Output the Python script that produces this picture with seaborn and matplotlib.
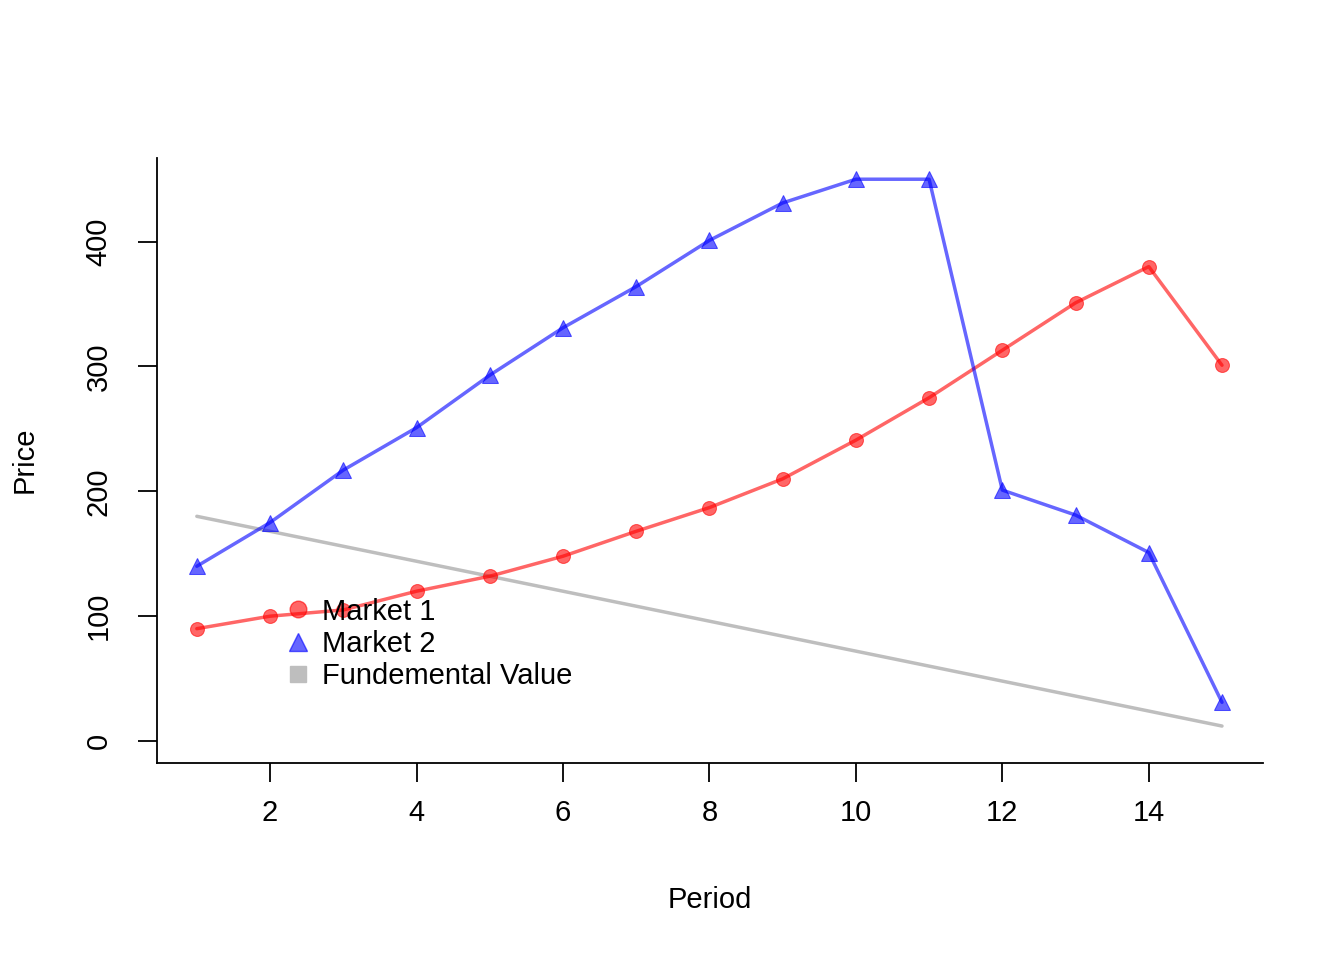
import numpy as np
import pandas as pd
import matplotlib
matplotlib.use('Agg')
import matplotlib.pyplot as plt
import seaborn as sns

period = list(range(1, 16))
market1 = [90, 100, 105, 120, 132, 148, 168, 187, 210, 241, 275, 313, 351, 380, 301]
market2 = [140, 175, 217, 251, 293, 331, 364, 401, 431, 450, 450, 201, 181, 151, 31]
fundamental = [180, 168, 156, 144, 132, 120, 108, 96, 84, 72, 60, 48, 36, 24, 12]

sns.set_style('white')
plt.rcParams['font.family'] = ['Liberation Sans', 'DejaVu Sans']
plt.rcParams['text.color'] = 'black'
plt.rcParams['xtick.color'] = 'black'
plt.rcParams['ytick.color'] = 'black'

fig = plt.figure(figsize=(13.44, 9.6), dpi=100)
ax = fig.add_axes([157/1344, 1 - 763/960, (1263-157)/1344, (763-158)/960])

red = (1, 0, 0, 0.6)
blue = (0, 0, 1, 0.6)
grey = '#BEBEBE'

sns.lineplot(x=period, y=fundamental, color=grey, linewidth=2.5, ax=ax)
sns.lineplot(x=period, y=market1, color=red, linewidth=2.5, marker='o', markersize=10,
             markeredgecolor=red, ax=ax)
sns.lineplot(x=period, y=market2, color=blue, linewidth=2.5, marker='^', markersize=11,
             markeredgecolor=blue, ax=ax)

ax.set_xlim(0.456, 15.56)
ax.set_ylim(-17.6, 467)
ax.set_xticks([2, 4, 6, 8, 10, 12, 14])
ax.set_yticks([0, 100, 200, 300, 400])
ax.tick_params(axis='both', labelsize=21, length=14, width=1.3, direction='out',
               bottom=True, left=True, labelcolor='black')
ax.tick_params(axis='x', pad=12)
ax.tick_params(axis='y', pad=18)
for lab in ax.get_yticklabels():
    lab.set_rotation(90)
    lab.set_va('center')
for s in ['top', 'right']:
    ax.spines[s].set_visible(False)
for s in ['left', 'bottom']:
    ax.spines[s].set_color('black')
    ax.spines[s].set_linewidth(1.3)

fig.text(710/1344, 1 - 900/960, 'Period', fontsize=21, ha='center', va='center')
fig.text(25/1344, 1 - 460/960, 'Price', fontsize=21, ha='center', va='center', rotation=90)

handles = [
    plt.Line2D([], [], linestyle='none', marker='o', markersize=12, color=red),
    plt.Line2D([], [], linestyle='none', marker='^', markersize=13, color=blue),
    plt.Line2D([], [], linestyle='none', marker='s', markersize=12, color=grey),
]
ax.legend(handles, ['Market 1', 'Market 2', 'Fundemental Value'], frameon=False,
          fontsize=21, loc='upper left', bbox_to_anchor=(112/1106, 1 - 425/605),
          handletextpad=0.3, labelspacing=0.15, borderpad=0, handlelength=1.0,
          labelcolor='black')

fig.savefig('out.png', dpi=100)
